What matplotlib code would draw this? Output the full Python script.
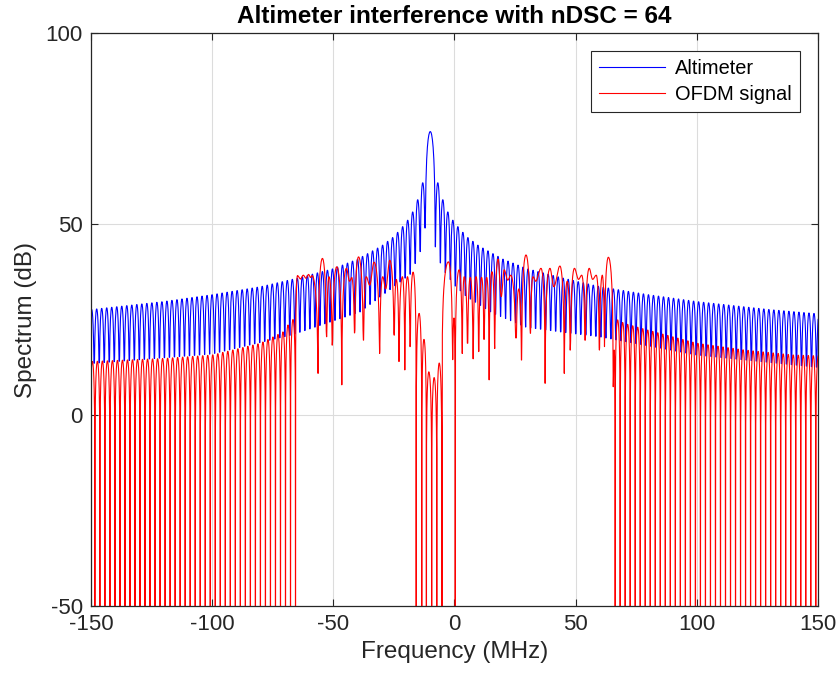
import numpy as np
import matplotlib
matplotlib.use("Agg")
import matplotlib.pyplot as plt

plt.rcParams['font.family'] = ['Liberation Sans', 'DejaVu Sans']
plt.rcParams['axes.unicode_minus'] = False

# ---- data ----
# lobe spacing of both spectra (MHz) and altimeter centre
LOBE_W = 2.07
ALT_CENTER = -10.0

# altimeter (blue): lobe peak envelope
alt_peak_f = [-152, -150, -120, -100, -80, -65, -50, -40, -30, -25, -21.4, -19.3, -17.2,
              -15.2, -13.1, -10, -6.9, -4.8, -2.8, -0.7, 1.4, 5, 10, 20, 30, 45,
              60, 80, 100, 130, 150, 152]
alt_peak_db = [27.5, 27.6, 29.7, 31.5, 33.6, 35.8, 38.3, 40.8, 44.3, 46.7, 49.3, 51.0, 53.2,
               56.3, 60.8, 74.2, 60.8, 56.3, 53.2, 51.0, 49.3, 46.7, 44.3, 40.8, 38.3, 35.8,
               33.6, 31.5, 29.7, 27.6, 26.5, 26.4]

# altimeter (blue): lobe null envelope
alt_null_f = [-152, -150, -100, -67, -53, -39, -25, -18, -14, -12.1, -7.9, -6, -4, 0,
              5, 10, 15.7, 29.5, 47, 60, 100, 150, 152]
alt_null_db = [13.5, 13.5, 16.0, 21.0, 24.0, 27.0, 33.6, 37.0, 43.0, 49.0, 44.0, 40.0, 37.5, 34.0,
               31.0, 29.0, 26.7, 23.0, 21.5, 20.5, 15.7, 12.5, 12.5]

# OFDM (red): out-of-band sidelobe peaks
red_oob_f = [-152, -150, -120, -100, -80, -70, -67.5, 67.5, 70, 80, 100, 120, 140, 150, 152]
red_oob_db = [14.0, 14.0, 14.8, 15.7, 18.8, 22.0, 25.0, 24.9, 24.0, 22.2, 18.8, 17.0, 15.7, 15.5, 15.5]
RED_EDGE_L = -65.6
RED_EDGE_R = 66.3
NULL_DB = -100.0

# OFDM (red): in-band extremes (alternating max / min)
red_band_f = [-64.8, -63.6, -62.4, -61.3, -60.2, -59.4, -58.8, -56.3, -54.5, -52.8,
              -51.8, -50.4, -48.6, -46.5, -44.6, -43.3, -42.4, -41.2, -39.6, -37.6,
              -36.4, -35.0, -33.2, -30.9, -29.6, -28.4, -26.7, -24.9, -24.0, -22.9,
              -21.5, -20.5, -19.4, -18.3, -17.1, -15.8, -14.6, -13.5, -12.6, -11.6,
              -10.6, -9.4, -8.4, -7.3, -6.3, -5.2, -2.5, -0.8, -0.2, 0.3,
              1.9, 3.2, 4.0, 5.4, 6.5, 7.7, 8.9, 10.0, 11.2, 12.2,
              13.3, 14.3, 15.5, 16.6, 18.0, 19.3, 20.5, 22.0, 23.2, 25.4,
              26.5, 27.7, 29.5, 31.3, 32.4, 33.5, 35.7, 37.4, 39.4, 41.0,
              43.5, 45.3, 46.5, 47.8, 49.5, 51.2, 52.5, 53.9, 55.6, 57.0,
              58.5, 59.8, 61.0, 61.9, 63.5, 65.5, 65.9]
red_band_db = [36.5, 35.6, 36.6, 35.8, 36.8, 36.0, 36.5, 10.9, 41.0, 20.5,
               36.2, 18.3, 38.8, 7.9, 38.4, 35.0, 36.0, 21.5, 41.4, 19.6,
               36.2, 34.0, 40.0, 16.1, 36.2, 33.0, 40.5, 20.9, 35.5, 14.0,
               36.2, 11.8, 36.2, 17.9, 37.4, NULL_DB, 26.6, NULL_DB, 19.8, NULL_DB,
               11.3, NULL_DB, 9.8, NULL_DB, 13.6, NULL_DB, 40.1, 14.5, 25.4, NULL_DB,
               38.0, 16.1, 36.2, 18.8, 36.0, 14.7, 36.2, 16.6, 36.0, 19.8,
               36.0, 9.2, 37.5, 17.4, 40.8, 31.0, 38.0, 35.3, 36.6, 20.2,
               33.0, 14.4, 41.9, 21.4, 36.2, 35.0, 38.4, 8.3, 38.4, 33.6,
               39.0, 10.9, 35.0, 17.0, 38.4, 35.5, 36.6, 19.6, 38.4, 35.5,
               36.6, 17.0, 36.6, 17.9, 41.3, 7.4, 17.0]


def lobe_curve(ext_f, ext_db, n=14):
    """Join alternating extremes with lobe-shaped segments."""
    xs, ys = [], []
    for i in range(len(ext_f) - 1):
        f0, f1 = ext_f[i], ext_f[i + 1]
        a, b = ext_db[i], ext_db[i + 1]
        s = np.linspace(0, 1, n, endpoint=False)
        lo, hi = min(a, b), max(a, b)
        t = s if a < b else 1 - s
        if hi - lo > 10:
            y = hi + 20 * np.log10(np.maximum(np.sin(np.pi / 2 * t), 1e-9))
            y = np.maximum(y, lo)
        else:
            y = lo + (hi - lo) * (1 - np.cos(np.pi * t)) / 2
        xs.append(f0 + (f1 - f0) * s)
        ys.append(y)
    xs.append([ext_f[-1]])
    ys.append([ext_db[-1]])
    return np.concatenate(xs), np.concatenate(ys)


def alternate(nulls, null_db, peak_db):
    f, d = [], []
    for i in range(len(nulls)):
        f.append(nulls[i])
        d.append(null_db[i])
        if i < len(nulls) - 1:
            f.append(peak_db[i][0])
            d.append(peak_db[i][1])
    return f, d


# altimeter extremes
k = np.arange(-70, 80)
k = k[k != 0]
alt_nulls = ALT_CENTER + LOBE_W * k
alt_nulls = alt_nulls[(alt_nulls > -153) & (alt_nulls < 153)]
alt_mid = (alt_nulls[:-1] + alt_nulls[1:]) / 2
alt_f, alt_db = alternate(
    list(alt_nulls), list(np.interp(alt_nulls, alt_null_f, alt_null_db)),
    list(zip(alt_mid, np.interp(alt_mid, alt_peak_f, alt_peak_db))))
alt_x, alt_y = lobe_curve(alt_f, alt_db)

# OFDM extremes: left OOB, in-band, right OOB
left_nulls = np.sort(RED_EDGE_L - LOBE_W * np.arange(0, 43))
left_mid = (left_nulls[:-1] + left_nulls[1:]) / 2
lf, ld = alternate(list(left_nulls), [NULL_DB] * len(left_nulls),
                   list(zip(left_mid, np.interp(left_mid, red_oob_f, red_oob_db))))
right_nulls = RED_EDGE_R + LOBE_W * np.arange(0, 42)
right_mid = (right_nulls[:-1] + right_nulls[1:]) / 2
rf, rd = alternate(list(right_nulls), [NULL_DB] * len(right_nulls),
                   list(zip(right_mid, np.interp(right_mid, red_oob_f, red_oob_db))))
red_f = lf + red_band_f + rf
red_d = ld + red_band_db + rd
red_x, red_y = lobe_curve(red_f, red_d)

# ---- plot ----
fig = plt.figure(figsize=(8.38, 6.83), dpi=100)
ax = fig.add_axes([0.1086, 0.1127, 0.8675, 0.8390])

ax.plot(alt_x, alt_y, color='blue', lw=0.8, label='Altimeter')
ax.plot(red_x, red_y, color='red', lw=0.8, label='OFDM signal')

ax.set_xlim(-150, 150)
ax.set_ylim(-50, 100)
ax.set_xticks([-150, -100, -50, 0, 50, 100, 150])
ax.set_yticks([-50, 0, 50, 100])
ax.grid(True, color='#dcdcdc', lw=0.8)
ax.set_axisbelow(True)
for sp in ax.spines.values():
    sp.set_color('#262626')
    sp.set_linewidth(0.9)
ax.tick_params(direction='in', top=True, right=True, length=5, width=0.8,
               colors='#262626', labelsize=16, pad=6)

ax.set_title('Altimeter interference with nDSC = 64', fontsize=17.5,
             fontweight='bold', pad=7)
ax.set_xlabel('Frequency (MHz)', fontsize=17.5, color='#262626')
ax.set_ylabel('Spectrum (dB)', fontsize=17.5, color='#262626', labelpad=6)

leg = ax.legend(loc='upper right', bbox_to_anchor=(0.975, 0.969), fontsize=14.4,
                fancybox=False, edgecolor='#262626', framealpha=1,
                borderaxespad=0, handlelength=3.3, borderpad=0.4,
                labelspacing=0.35, handletextpad=0.5)
leg.get_frame().set_linewidth(0.8)

fig.savefig('out.png', dpi=100)
